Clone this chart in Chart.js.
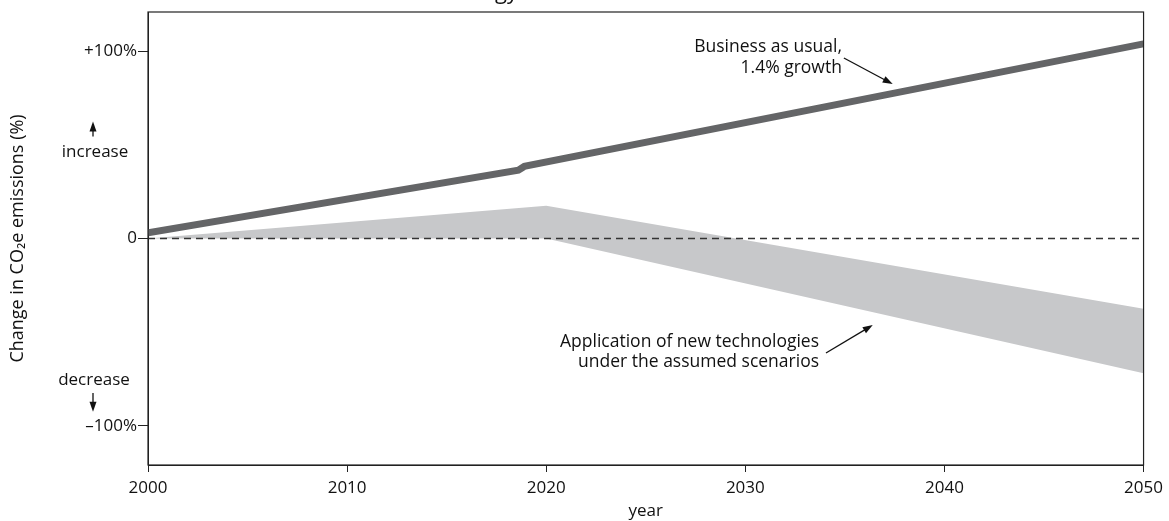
<!DOCTYPE html>
<html>
<head>
<meta charset="utf-8">
<script src="https://cdn.jsdelivr.net/npm/chart.js@4.4.1/dist/chart.umd.min.js"></script>
<style>
  html, body { margin: 0; padding: 0; background: #fff; }
  #wrap { width: 1169px; height: 521px; position: relative; }
</style>
</head>
<body>
<div id="wrap"><canvas id="emissionsChart"></canvas></div>
<script>
// values (percent change vs 2000)
const bauYears = [2000, 2018.6, 2018.9, 2050];
const bauValues = [3, 36.5, 38.5, 104];
const bandYears = [2000, 2020, 2050];
const bandUpper = [0, 17.5, -37.5];
const bandLower = [0, 0, -72];
const zeroYears = [2000, 2050];
const zeroValues = [0, 0];
const yearTicks = [2000, 2010, 2020, 2030, 2040, 2050];
const pctTicks = [-100, 0, 100];
const pctLabels = ['\u2013100%', '0', '+100%'];

const FONT = 'Open Sans';
const pts = (xs, ys) => xs.map((x, i) => ({ x: x, y: ys[i] }));

// frame, arrows and the loose text labels
const decorations = {
    id: 'decorations',
    afterDatasetsDraw(chart) {
        const c = chart.ctx;
        const a = chart.chartArea;
        const xs = chart.scales.x, ys = chart.scales.y;
        const px = v => xs.getPixelForValue(v);
        const py = v => ys.getPixelForValue(v);

        c.save();
        c.strokeStyle = '#222';
        c.lineWidth = 1.2;
        c.strokeRect(a.left, a.top, a.right - a.left, a.bottom - a.top);

        const arrow = (x1, y1, x2, y2) => {
            const ang = Math.atan2(y2 - y1, x2 - x1);
            c.beginPath();
            c.moveTo(x1, y1);
            c.lineTo(x2 - 6 * Math.cos(ang), y2 - 6 * Math.sin(ang));
            c.strokeStyle = '#111';
            c.lineWidth = 1.3;
            c.stroke();
            c.beginPath();
            c.moveTo(x2, y2);
            c.lineTo(x2 - 10 * Math.cos(ang) + 3.5 * Math.sin(ang), y2 - 10 * Math.sin(ang) - 3.5 * Math.cos(ang));
            c.lineTo(x2 - 10 * Math.cos(ang) - 3.5 * Math.sin(ang), y2 - 10 * Math.sin(ang) + 3.5 * Math.cos(ang));
            c.closePath();
            c.fillStyle = '#111';
            c.fill();
        };

        c.fillStyle = '#111';
        c.font = '17.5px "' + FONT + '"';
        c.textBaseline = 'middle';

        // Business as usual
        c.textAlign = 'right';
        c.fillText('Business as usual,', px(2034.85), py(102.3));
        c.fillText('1.4% growth', px(2034.85), py(91.2));
        arrow(px(2034.95), py(96.4), px(2037.4), py(82.5));

        // new technologies
        c.fillText('Application of new technologies', px(2033.7), py(-55.3));
        c.fillText('under the assumed scenarios', px(2033.7), py(-65.8));
        arrow(px(2034.05), py(-61.2), px(2036.4), py(-46.2));

        // increase / decrease hints left of the axis
        c.textAlign = 'center';
        c.font = '17px "' + FONT + '"';
        c.fillText('increase', 95, py(46.2));
        arrow(93, py(54.5), 93, py(62.5));
        c.fillText('decrease', 94, py(-75.6));
        arrow(93, py(-82.5), 93, py(-92.5));

        // top of a title that is cut off by the picture edge
        c.textAlign = 'right';
        c.textBaseline = 'alphabetic';
        c.font = '22px "' + FONT + '"';
        c.fillText('Energy', 518, -1);
        c.restore();
    }
};

// higher "order" is drawn first (underneath)
const ctx = document.getElementById('emissionsChart').getContext('2d');
const emissionsChart = new Chart(ctx, {
    type: 'line',
    data: {
        datasets: [
            {
                label: 'lower',
                data: pts(bandYears, bandLower),
                borderWidth: 0,
                pointRadius: 0,
                fill: false,
                order: 4
            },
            {
                label: 'new technologies',
                data: pts(bandYears, bandUpper),
                borderWidth: 0,
                pointRadius: 0,
                backgroundColor: '#c7c8ca',
                fill: '-1',
                order: 3
            },
            {
                label: 'zero',
                data: pts(zeroYears, zeroValues),
                borderColor: '#333',
                borderWidth: 1.5,
                borderDash: [7, 5],
                pointRadius: 0,
                fill: false,
                order: 2
            },
            {
                label: 'Business as usual',
                data: pts(bauYears, bauValues),
                borderColor: '#646567',
                borderWidth: 7,
                borderJoinStyle: 'miter',
                borderCapStyle: 'butt',
                pointRadius: 0,
                fill: false,
                order: 1
            }
        ]
    },
    options: {
        responsive: true,
        maintainAspectRatio: false,
        animation: false,
        layout: { padding: { top: 12, right: 24, left: 0, bottom: 0 } },
        scales: {
            x: {
                type: 'linear',
                min: 2000,
                max: 2050,
                afterFit: s => { s.height = 56; },
                afterBuildTicks: s => { s.ticks = yearTicks.map(v => ({ value: v })); },
                ticks: {
                    color: '#111',
                    font: { family: FONT, size: 17 },
                    padding: 6,
                    maxRotation: 0,
                    callback: v => String(v)
                },
                grid: {
                    drawOnChartArea: false,
                    drawTicks: true,
                    tickLength: 7,
                    color: '#222'
                },
                border: { display: true, color: '#222' },
                title: {
                    display: true,
                    text: 'year',
                    color: '#111',
                    font: { family: FONT, size: 17 },
                    padding: { top: 0, bottom: 0 }
                }
            },
            y: {
                min: -121,
                max: 121,
                afterFit: s => { s.width = 148; },
                afterBuildTicks: s => { s.ticks = pctTicks.map(v => ({ value: v })); },
                ticks: {
                    color: '#111',
                    font: { family: FONT, size: 17 },
                    padding: 1,
                    callback: v => pctLabels[pctTicks.indexOf(v)]
                },
                grid: {
                    drawOnChartArea: false,
                    drawTicks: true,
                    tickLength: 10,
                    color: '#222'
                },
                border: { display: true, color: '#222' },
                title: {
                    display: true,
                    text: 'Change in CO\u2082e emissions (%)',
                    color: '#111',
                    font: { family: FONT, size: 18 },
                    padding: { top: 7, bottom: 0 }
                }
            }
        },
        plugins: {
            legend: { display: false },
            tooltip: { enabled: false }
        }
    },
    plugins: [decorations]
});
</script>
</body>
</html>
